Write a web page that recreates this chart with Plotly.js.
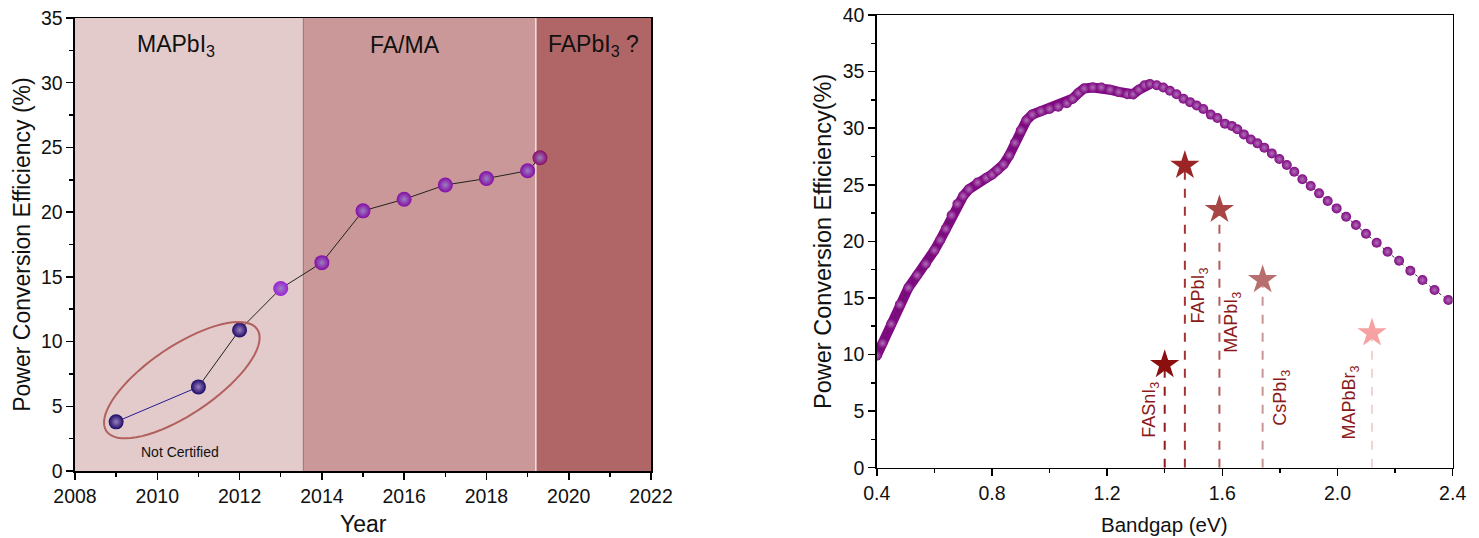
<!DOCTYPE html>
<html>
<head>
<meta charset="utf-8">
<script src="https://cdn.plot.ly/plotly-3.0.1.min.js"></script>
<style>html,body{margin:0;padding:0;background:#fff;}#chart{width:1479px;height:538px;}</style>
</head>
<body>
<div id="chart"></div>
<script>
// ---------- Left panel data: record PCE by year ----------
const years = [2009, 2011, 2012, 2013, 2014, 2015, 2016, 2017, 2018, 2019, 2019.3];
const pce   = [3.8, 6.5, 10.9, 14.1, 16.1, 20.1, 21.0, 22.1, 22.6, 23.2, 24.2];
const eraNames = ['MAPbI<sub>3</sub>', 'FA/MA', 'FAPbI<sub>3</sub> ?'];
const eraStart = [2008, 2013.55, 2019.2];
const eraEnd   = [2013.55, 2019.2, 2022];
const notCertifiedCount = 3; // first three records are not certified

// ---------- Right panel data: SQ-type limit curve ----------
const bandgapEV = [0.40,0.42,0.45,0.48,0.51,0.54,0.57,0.60,0.62,0.64,0.66,0.68,0.70,0.72,0.75,0.78,0.80,0.82,0.84,0.86,0.88,0.90,0.92,0.94,0.97,1.00,1.03,1.06,1.08,1.10,1.12,1.15,1.18,1.21,1.24,1.27,1.29,1.31,1.33,
  1.349,1.372,1.395,1.418,1.441,1.465,1.488,1.511,1.534,1.560,1.583,1.609,1.633,1.652,1.675,1.699,1.722,1.746,1.772,1.798,1.824,1.850,1.878,1.907,1.936,1.966,1.997,2.030,2.064,2.099,2.136,2.174,2.214,2.253,2.295,2.337,2.385];
const pceLimit = [9.9,11.0,12.7,14.4,15.9,17.0,18.0,19.2,20.1,21.1,22.3,23.3,24.0,24.6,25.2,25.6,25.9,26.3,26.8,27.6,28.7,29.8,30.7,31.2,31.5,31.7,31.9,32.2,32.6,33.1,33.5,33.6,33.6,33.4,33.2,33.0,33.0,33.4,33.8,
  33.9,33.8,33.6,33.3,33.0,32.6,32.3,32.0,31.7,31.2,30.9,30.4,30.2,29.9,29.45,29.0,28.66,28.27,27.77,27.27,26.74,26.15,25.48,24.89,24.24,23.56,22.91,22.17,21.44,20.67,19.88,19.08,18.29,17.40,16.58,15.70,14.81];
const materials   = ['FASnI<sub>3</sub>', 'FAPbI<sub>3</sub>', 'MAPbI<sub>3</sub>', 'CsPbI<sub>3</sub>', 'MAPbBr<sub>3</sub>'];
const matBandgap  = [1.40, 1.47, 1.59, 1.74, 2.12];
const matPCE      = [9.1, 26.7, 22.8, 16.6, 11.9];

// ---------- styles ----------
const FONT = 'Liberation Sans, Arial, sans-serif';
const pointColors = ['#1c0966','#1c0966','#1c0966','#9a1fd6','#850ca4','#850ca4','#850ca4','#850ca4','#850ca4','#850ca4','#8a0a68'];
const eraFill = ['#e3cbcc', '#ca9898', '#b06666'];
const starColors = ['#8b0f0f', '#9c2424', '#a84646', '#b96e6e', '#f6a2a2'];
const dashColors = ['#8e1c1c', '#a43434', '#b35a5a', '#cc9595', '#f0d4d4'];
const labelDX = [-0.048, 0.052, 0.047, 0.065, -0.075];
const labelY  = [5.1, 15.2, 12.9, 6.2, 5.8];

const W = 1479, H = 538;
const dom = {x1:[0.0507,0.4402], y1:[0.1245,0.9665], x2:[0.5928,0.9822], y2:[0.1307,0.9721]};

const traces = [];
// left: connecting lines
traces.push({x: years.slice(0,2), y: pce.slice(0,2), mode:'lines', line:{color:'#2a1890', width:1}, xaxis:'x', yaxis:'y', hoverinfo:'skip'});
traces.push({x: years.slice(1), y: pce.slice(1), mode:'lines', line:{color:'#222', width:1}, xaxis:'x', yaxis:'y', hoverinfo:'skip'});
traces.push({x: years, y: pce, mode:'markers', xaxis:'x', yaxis:'y',
  marker:{size:15, color: pointColors, gradient:{type:'radial', color:'#9a80c0'}, line:{width:0}}});

// right: limit curve (dense band + sphere markers)
const denseN = bandgapEV.findIndex(v => v > 1.34);
traces.push({x: bandgapEV.slice(0, denseN+1), y: pceLimit.slice(0, denseN+1), mode:'lines', line:{color:'#800a82', width:10}, xaxis:'x2', yaxis:'y2', hoverinfo:'skip'});
traces.push({x: bandgapEV, y: pceLimit, mode:'lines+markers', xaxis:'x2', yaxis:'y2',
  line:{color:'#333', width:1, dash:'dot'},
  marker:{size:10, color:'#800a82', gradient:{type:'radial', color:'#b070b8'}, line:{width:0}}});
// right: material bandgaps (dashed drop lines + stars)
materials.forEach((m, i) => {
  traces.push({x:[matBandgap[i], matBandgap[i]], y:[0, matPCE[i]], mode:'lines', xaxis:'x2', yaxis:'y2',
    line:{color: dashColors[i], width:2, dash:'dash'}, hoverinfo:'skip'});
});
traces.push({x: matBandgap, y: matPCE, mode:'markers', xaxis:'x2', yaxis:'y2',
  marker:{symbol:'star', size:22, color: starColors, line:{width:0}}});

// shapes
const shapes = [];
eraNames.forEach((n, i) => {
  shapes.push({type:'rect', xref:'x', yref:'y', x0: eraStart[i], x1: eraEnd[i], y0:0, y1:35,
    fillcolor: eraFill[i], line:{width:0}, layer:'below'});
});
shapes.push({type:'line', xref:'x', yref:'y', x0: eraStart[1], x1: eraStart[1], y0:0, y1:35, line:{color:'#b06a6a', width:1}, layer:'below'});
shapes.push({type:'line', xref:'x', yref:'y', x0: eraStart[2], x1: eraStart[2], y0:0, y1:35, line:{color:'#f3e3e3', width:1.5}, layer:'below'});

// ellipse around the non-certified records (built in pixel space of the left panel)
(function(){
  const pxX = (dom.x1[1]-dom.x1[0])*W/14, pxY = (dom.y1[1]-dom.y1[0])*H/35;
  const cx = years.slice(0, notCertifiedCount).reduce((a,b)=>a+b,0)/notCertifiedCount - 0.07;
  const cy = pce.slice(0, notCertifiedCount).reduce((a,b)=>a+b,0)/notCertifiedCount - 0.05;
  const a = 91, b = 34, th = 34*Math.PI/180;
  let p = '';
  for (let k = 0; k <= 72; k++) {
    const t = 2*Math.PI*k/72;
    const dx = a*Math.cos(t)*Math.cos(th) - b*Math.sin(t)*Math.sin(th);
    const dy = a*Math.cos(t)*Math.sin(th) + b*Math.sin(t)*Math.cos(th);
    p += (k ? 'L' : 'M') + (cx + dx/pxX).toFixed(4) + ',' + (cy + dy/pxY).toFixed(4);
  }
  shapes.push({type:'path', xref:'x', yref:'y', path: p + 'Z', line:{color:'#b2605e', width:2}});
})();

// annotations
const annotations = [];
const eraLabelX = [2010.45, 2016.02, 2020.6];
eraNames.forEach((n, i) => annotations.push({xref:'x', yref:'y', x: eraLabelX[i], y: 32.9, text: n, showarrow:false,
  font:{family:FONT, size:23, color:'#111'}}));
annotations.push({xref:'x', yref:'y', x: 2010.55, y: 1.5, text:'Not Certified', showarrow:false, font:{family:FONT, size:14, color:'#111'}});
materials.forEach((m, i) => annotations.push({xref:'x2', yref:'y2', x: matBandgap[i] + labelDX[i], y: labelY[i], text: m,
  textangle:-90, showarrow:false, font:{family:FONT, size:18, color:'#8b1a1a'}}));
// x-axis titles, placed in paper space below each panel
annotations.push({xref:'x domain', yref:'paper', x:0.5, y:(H-524)/H, yanchor:'middle', text:'Year', showarrow:false,
  font:{family:FONT, size:23, color:'#111'}});
annotations.push({xref:'x2 domain', yref:'paper', x:0.5, y:(H-524)/H, yanchor:'middle', text:'Bandgap (eV)', showarrow:false,
  font:{family:FONT, size:20.5, color:'#111'}});

const axBase = {showgrid:false, zeroline:false, showline:true, linecolor:'#000', linewidth:1.5, mirror:true,
  ticks:'outside', ticklen:7, tickwidth:1.5, tickcolor:'#000', tickfont:{family:FONT, size:19.5, color:'#111'}};

const layout = {
  width: W, height: H, margin:{l:0, r:0, t:0, b:0}, paper_bgcolor:'#fff', plot_bgcolor:'rgba(0,0,0,0)',
  showlegend:false, font:{family:FONT},
  xaxis: Object.assign({}, axBase, {domain: dom.x1, range:[2008, 2022], dtick:2, tick0:2008, anchor:'y',
    minor:{dtick:1, ticks:'outside', ticklen:4, tickwidth:1.5, tickcolor:'#000'}}),
  yaxis: Object.assign({}, axBase, {domain: dom.y1, range:[0, 35], dtick:5, anchor:'x',
    minor:{dtick:2.5, ticks:'outside', ticklen:4, tickwidth:1.5, tickcolor:'#000'},
    title:{text:'Power Conversion Efficiency (%)', font:{family:FONT, size:23, color:'#111'}, standoff:4}}),
  xaxis2: Object.assign({}, axBase, {domain: dom.x2, range:[0.4, 2.4], dtick:0.4, tick0:0.4, tickformat:'.1f', anchor:'y2',
    minor:{dtick:0.2, ticks:'outside', ticklen:4, tickwidth:1.5, tickcolor:'#000'}}),
  yaxis2: Object.assign({}, axBase, {domain: dom.y2, range:[0, 40], dtick:5, anchor:'x2',
    minor:{dtick:2.5, ticks:'outside', ticklen:4, tickwidth:1.5, tickcolor:'#000'},
    title:{text:'Power Conversion Efficiency(%)', font:{family:FONT, size:23.5, color:'#111'}, standoff:4}}),
  shapes: shapes, annotations: annotations
};

Plotly.newPlot('chart', traces, layout, {staticPlot:true, displayModeBar:false});
</script>
</body>
</html>
